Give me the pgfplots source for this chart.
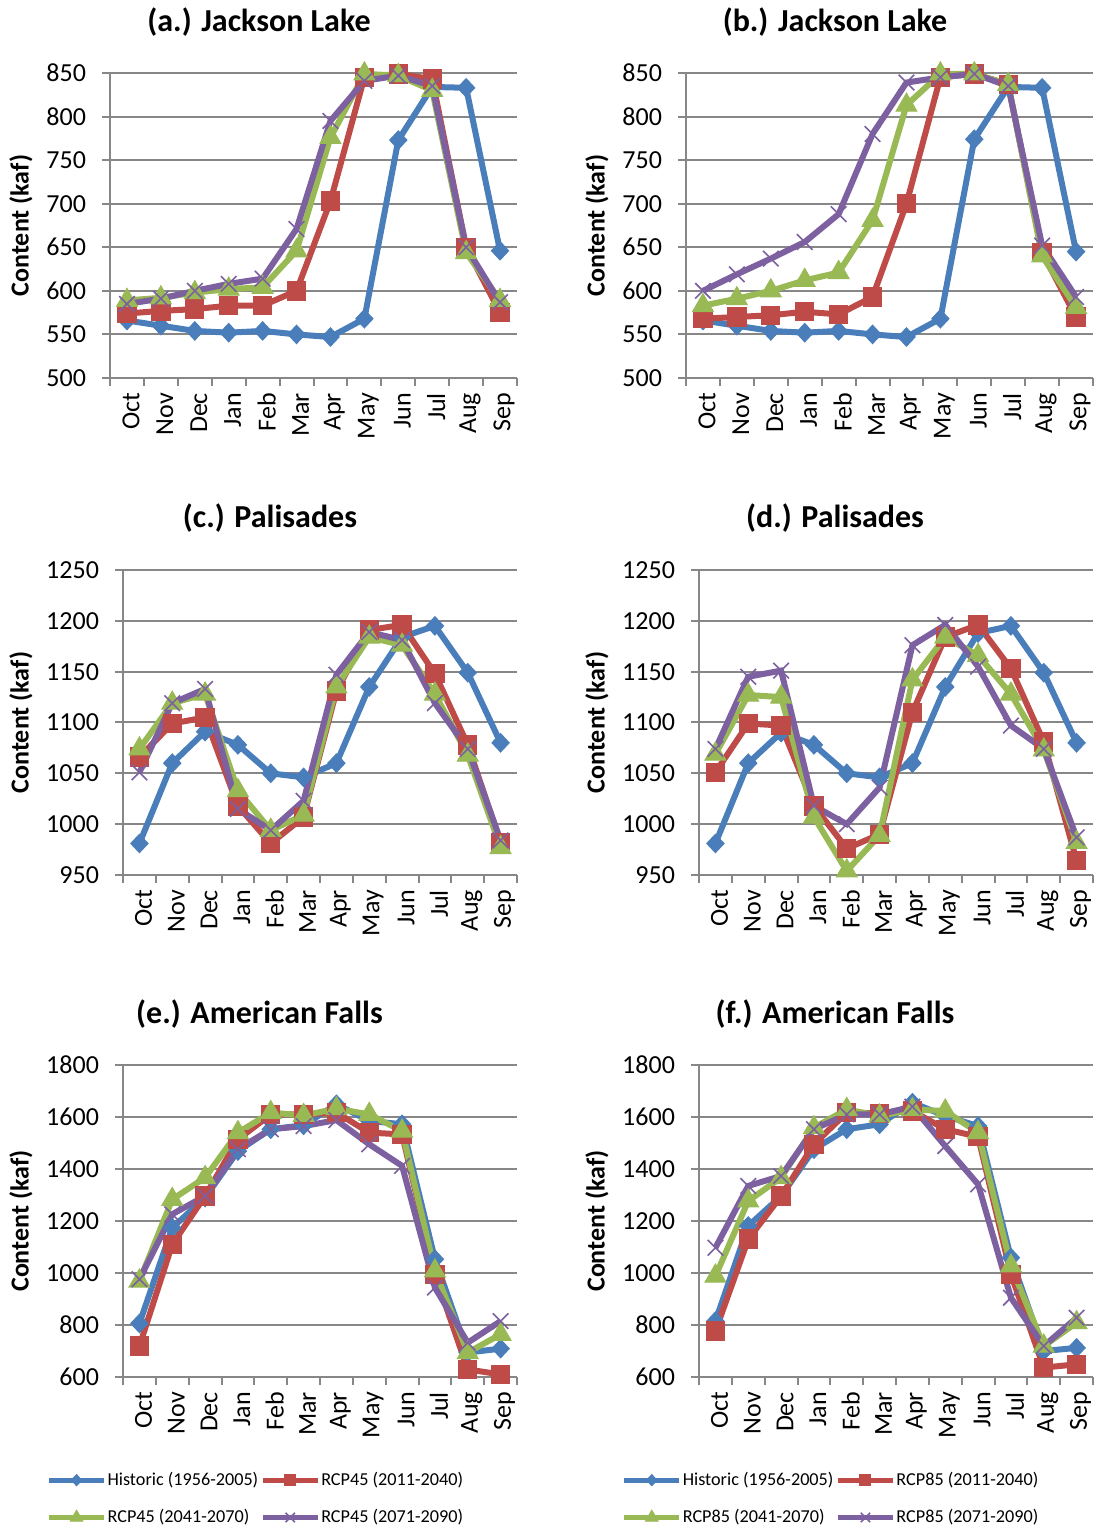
\documentclass[border=0pt]{standalone}
\usepackage{fontspec}
\setmainfont{Carlito}
\usepackage{pgfplots}
\pgfplotsset{compat=1.18}
\definecolor{cB}{HTML}{4A7EBB}
\definecolor{cR}{HTML}{BE4B48}
\definecolor{cG}{HTML}{98B954}
\definecolor{cP}{HTML}{7D60A0}
\definecolor{cGrid}{HTML}{878787}
\pgfplotsset{
  panel/.style={
    scale only axis, clip=false,
    xmin=-0.5, xmax=11.5,
    xtick={0,...,11},
    xticklabels={Oct,Nov,Dec,Jan,Feb,Mar,Apr,May,Jun,Jul,Aug,Sep},
    minor xtick={-0.5,0.5,...,11.5},
    major x tick style={draw=none},
    tick align=outside,
    major tick length=4pt, minor tick length=4pt,
    every tick/.style={cGrid, line width=1pt},
    axis x line*=bottom, axis y line*=left,
    axis line style={cGrid, line width=1pt, -},
    ymajorgrids, grid style={cGrid, line width=1pt},
    xticklabel style={rotate=90, anchor=east, yshift=-2pt, font=\fontsize{13}{15}\selectfont},
    yticklabel style={xshift=-4.5pt, font=\fontsize{13}{15}\selectfont},
    /pgf/number format/assume math mode=true,
    /pgf/number format/1000 sep={},
    ylabel={Content (kaf)},
    ylabel style={font=\bfseries\fontsize{13}{15}\selectfont},
    legend image code/.code={\draw[mark repeat=2, mark phase=2, ##1, line width=2.5pt, /tikz/every mark/.append style={scale=0.6}] plot coordinates {(0pt,0pt) (13.75pt,0pt) (27.5pt,0pt)};},
    legend columns=2, legend cell align=left,
    legend style={draw=none, fill=none, inner sep=0pt, row sep=9.5pt,
      font=\fontsize{9.1}{11}\selectfont, anchor=north west,
      nodes={inner sep=0.5pt},
      /tikz/every even column/.append style={column sep=0.5pt}},
  },
  hist/.style={color=cB, line width=3pt, mark=diamond*, mark size=4.6pt, mark options={solid, line width=0.5pt, xscale=1.25}},
  ra/.style={color=cR, line width=3pt, mark=square*, mark size=4.6pt, mark options={solid, line width=0.5pt}},
  rb/.style={color=cG, line width=3pt, mark=triangle*, mark size=6pt, mark options={solid, line width=0.5pt}},
  rc/.style={color=cP, line width=3pt, mark=x, mark size=5.5pt, mark options={solid, line width=0.8pt}},
}
\begin{document}
\begin{tikzpicture}
\useasboundingbox (0,0) rectangle (547pt,765.5pt);
% (a)
\begin{axis}[panel, at={(55pt,576.5pt)}, width=203.5pt, height=152.5pt, ymin=500, ymax=850, ytick distance=50]
\addplot[hist] coordinates {(0,566) (1,560) (2,554) (3,552) (4,554) (5,550) (6,547) (7,568) (8,773) (9,834) (10,833) (11,646)};
\addplot[ra] coordinates {(0,574) (1,577) (2,579) (3,583) (4,583) (5,600) (6,703) (7,845) (8,849) (9,843) (10,650) (11,575)};
\addplot[rb] coordinates {(0,589) (1,592) (2,598) (3,602) (4,604) (5,646) (6,776) (7,849) (8,847) (9,830) (10,644) (11,589)};
\addplot[rc] coordinates {(0,585) (1,591) (2,600) (3,608) (4,614) (5,671) (6,795) (7,841) (8,847) (9,835) (10,650) (11,587)};
\end{axis}
% (b)
\begin{axis}[panel, at={(343pt,576.5pt)}, width=203.5pt, height=152.5pt, ymin=500, ymax=850, ytick distance=50]
\addplot[hist] coordinates {(0,566) (1,560) (2,554) (3,552) (4,554) (5,550) (6,547) (7,568) (8,774) (9,834) (10,833) (11,645)};
\addplot[ra] coordinates {(0,568) (1,570) (2,572) (3,576) (4,573) (5,593) (6,700) (7,845) (8,849) (9,837) (10,644) (11,570)};
\addplot[rb] coordinates {(0,583) (1,591) (2,600) (3,612) (4,621) (5,681) (6,813) (7,849) (8,849) (9,837) (10,640) (11,581)};
\addplot[rc] coordinates {(0,600) (1,619) (2,637) (3,656) (4,688) (5,780) (6,839) (7,845) (8,849) (9,835) (10,652) (11,593)};
\end{axis}
% (c)
\begin{axis}[panel, at={(61.5pt,328pt)}, width=197pt, height=152.5pt, ymin=950, ymax=1250, ytick distance=50]
\addplot[hist] coordinates {(0,981) (1,1060) (2,1091) (3,1078) (4,1050) (5,1046) (6,1060) (7,1135) (8,1184) (9,1195) (10,1149) (11,1080)};
\addplot[ra] coordinates {(0,1066) (1,1099) (2,1105) (3,1018) (4,981) (5,1007) (6,1131) (7,1191) (8,1196) (9,1148) (10,1078) (11,982)};
\addplot[rb] coordinates {(0,1074) (1,1119) (2,1128) (3,1033) (4,994) (5,1009) (6,1135) (7,1184) (8,1176) (9,1128) (10,1068) (11,977)};
\addplot[rc] coordinates {(0,1051) (1,1119) (2,1133) (3,1015) (4,994) (5,1023) (6,1147) (7,1189) (8,1181) (9,1119) (10,1074) (11,984)};
\end{axis}
% (d)
\begin{axis}[panel, at={(349.5pt,328pt)}, width=197pt, height=152.5pt, ymin=950, ymax=1250, ytick distance=50]
\addplot[hist] coordinates {(0,981) (1,1060) (2,1090) (3,1078) (4,1050) (5,1046) (6,1060) (7,1135) (8,1188) (9,1195) (10,1149) (11,1080)};
\addplot[ra] coordinates {(0,1051) (1,1099) (2,1097) (3,1018) (4,976) (5,990) (6,1110) (7,1184) (8,1196) (9,1153) (10,1081) (11,964)};
\addplot[rb] coordinates {(0,1069) (1,1127) (2,1125) (3,1007) (4,954) (5,989) (6,1142) (7,1184) (8,1166) (9,1128) (10,1073) (11,982)};
\addplot[rc] coordinates {(0,1074) (1,1145) (2,1151) (3,1018) (4,1000) (5,1036) (6,1176) (7,1196) (8,1155) (9,1097) (10,1074) (11,987)};
\end{axis}
% (e)
\begin{axis}[panel, at={(61.5pt,77pt)}, width=197pt, height=156pt, ymin=600, ymax=1800, ytick distance=200,
  legend style={at={(-0.195,-0.30)}}]
\addplot[hist] coordinates {(0,806) (1,1174) (2,1290) (3,1469) (4,1553) (5,1568) (6,1649) (7,1585) (8,1572) (9,1053) (10,694) (11,709)};
\addplot[ra] coordinates {(0,719) (1,1110) (2,1296) (3,1514) (4,1610) (5,1610) (6,1617) (7,1540) (8,1533) (9,995) (10,629) (11,610)};
\addplot[rb] coordinates {(0,969) (1,1283) (2,1367) (3,1540) (4,1617) (5,1606) (6,1632) (7,1610) (8,1546) (9,1008) (10,694) (11,764)};
\addplot[rc] coordinates {(0,976) (1,1226) (2,1296) (3,1476) (4,1553) (5,1565) (6,1588) (7,1495) (8,1412) (9,944) (10,732) (11,815)};
\legend{Historic (1956-2005), RCP45 (2011-2040), RCP45 (2041-2070), RCP45 (2071-2090)}
\end{axis}
% (f)
\begin{axis}[panel, at={(349.5pt,77pt)}, width=197pt, height=156pt, ymin=600, ymax=1800, ytick distance=200,
  legend style={at={(-0.197,-0.30)}}]
\addplot[hist] coordinates {(0,815) (1,1181) (2,1296) (3,1476) (4,1553) (5,1572) (6,1655) (7,1604) (8,1565) (9,1059) (10,700) (11,712)};
\addplot[ra] coordinates {(0,777) (1,1130) (2,1296) (3,1495) (4,1617) (5,1614) (6,1623) (7,1553) (8,1524) (9,995) (10,636) (11,649)};
\addplot[rb] coordinates {(0,988) (1,1277) (2,1367) (3,1559) (4,1629) (5,1604) (6,1629) (7,1623) (8,1540) (9,1027) (10,719) (11,809)};
\addplot[rc] coordinates {(0,1097) (1,1335) (2,1373) (3,1553) (4,1610) (5,1610) (6,1640) (7,1488) (8,1341) (9,905) (10,719) (11,828)};
\legend{Historic (1956-2005), RCP85 (2011-2040), RCP85 (2041-2070), RCP85 (2071-2090)}
\end{axis}
% titles
\node[font=\bfseries\fontsize{16}{19}\selectfont] at (129.5pt,754.5pt) {(a.) Jackson Lake};
\node[font=\bfseries\fontsize{16}{19}\selectfont] at (417.5pt,754.5pt) {(b.) Jackson Lake};
\node[font=\bfseries\fontsize{16}{19}\selectfont] at (135pt,506.5pt) {(c.) Palisades};
\node[font=\bfseries\fontsize{16}{19}\selectfont] at (417.5pt,506.5pt) {(d.) Palisades};
\node[font=\bfseries\fontsize{16}{19}\selectfont] at (129.75pt,258.5pt) {(e.) American Falls};
\node[font=\bfseries\fontsize{16}{19}\selectfont] at (417.5pt,258.5pt) {(f.) American Falls};
\end{tikzpicture}
\end{document}
